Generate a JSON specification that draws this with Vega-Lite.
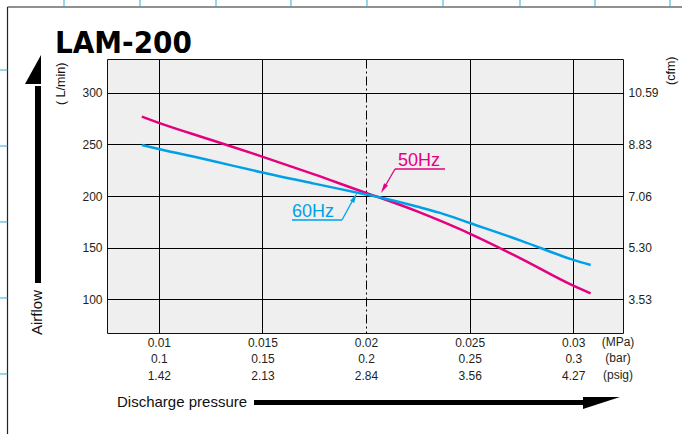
{
  "$schema": "https://vega.github.io/schema/vega-lite/v6.json",
  "width": 516,
  "height": 274,
  "autosize": {"type": "none"},
  "padding": {"left": 107, "top": 59, "right": 59, "bottom": 101},
  "background": "white",
  "title": {
    "text": "LAM-200",
    "anchor": "start",
    "frame": "group",
    "dx": -52,
    "dy": 99,
    "offset": 14,
    "baseline": "alphabetic",
    "fontSize": 31,
    "font": "DejaVu Sans Condensed",
    "fontWeight": "bold",
    "color": "#000000"
  },
  "config": {
    "view": {"fill": "#efefef", "stroke": "#111111", "strokeWidth": 1},
    "font": "Liberation Sans",
    "axis": {"labelFont": "Liberation Sans", "labelColor": "#231f20", "labelFontSize": 12},
    "text": {"font": "Liberation Sans"}
  },
  "datasets": {
    "curves": [
      {"series": "50Hz", "x": 0.00918, "y": 277},
      {"series": "50Hz", "x": 0.01, "y": 271},
      {"series": "50Hz", "x": 0.0125, "y": 254.6},
      {"series": "50Hz", "x": 0.01488, "y": 239},
      {"series": "50Hz", "x": 0.0175, "y": 221},
      {"series": "50Hz", "x": 0.02, "y": 203},
      {"series": "50Hz", "x": 0.02058, "y": 199},
      {"series": "50Hz", "x": 0.0225, "y": 184.8},
      {"series": "50Hz", "x": 0.02357, "y": 176},
      {"series": "50Hz", "x": 0.025, "y": 163.5},
      {"series": "50Hz", "x": 0.0275, "y": 139},
      {"series": "50Hz", "x": 0.03, "y": 113},
      {"series": "50Hz", "x": 0.03084, "y": 105.5},
      {"series": "60Hz", "x": 0.00918, "y": 249.5},
      {"series": "60Hz", "x": 0.01, "y": 245.6},
      {"series": "60Hz", "x": 0.0125, "y": 234.5},
      {"series": "60Hz", "x": 0.01488, "y": 223.3},
      {"series": "60Hz", "x": 0.0175, "y": 212},
      {"series": "60Hz", "x": 0.02, "y": 201.5},
      {"series": "60Hz", "x": 0.02058, "y": 199},
      {"series": "60Hz", "x": 0.0225, "y": 189.5},
      {"series": "60Hz", "x": 0.02357, "y": 183.6},
      {"series": "60Hz", "x": 0.025, "y": 173.8},
      {"series": "60Hz", "x": 0.0275, "y": 156.5},
      {"series": "60Hz", "x": 0.03, "y": 138},
      {"series": "60Hz", "x": 0.03084, "y": 133}
    ],
    "hzLabels": [
      {"series": "50Hz", "x": 0.021542, "y": 229.1, "text": "50Hz"},
      {"series": "60Hz", "x": 0.016427, "y": 179.6, "text": "60Hz"}
    ],
    "leaders": [
      {"series": "50Hz", "x": 0.021398, "y": 226.2, "x2": 0.02381, "y2": 226.2},
      {"series": "50Hz", "x": 0.021398, "y": 226.2, "x2": 0.020867, "y2": 207.8},
      {"series": "60Hz", "x": 0.016427, "y": 176.7, "x2": 0.01884, "y2": 176.7},
      {"series": "60Hz", "x": 0.01884, "y": 176.7, "x2": 0.019419, "y2": 198.1}
    ],
    "tips": [
      {"series": "50Hz", "x": 0.020843, "y": 207.1},
      {"series": "60Hz", "x": 0.019448, "y": 198.6}
    ],
    "frame": [
      {"x": 0.002699, "y": 383.5, "x2": 0.002699, "y2": -33},
      {"x": 0.002699, "y": 383.5, "x2": 0.0353, "y2": 383.5}
    ],
    "blueTicks": [
      {"x": 0.005425, "y": 391, "x2": 0.005425, "y2": 383.5},
      {"x": 0.009092, "y": 391, "x2": 0.009092, "y2": 383.5},
      {"x": 0.01276, "y": 391, "x2": 0.01276, "y2": 383.5},
      {"x": 0.016379, "y": 391, "x2": 0.016379, "y2": 383.5},
      {"x": 0.020046, "y": 391, "x2": 0.020046, "y2": 383.5},
      {"x": 0.023714, "y": 391, "x2": 0.023714, "y2": 383.5},
      {"x": 0.02743, "y": 391, "x2": 0.02743, "y2": 383.5},
      {"x": 0.031049, "y": 391, "x2": 0.031049, "y2": 383.5},
      {"x": 0.034668, "y": 391, "x2": 0.034668, "y2": 383.5},
      {"x": 0.00228, "y": 322.3, "x2": 0.002699, "y2": 322.3},
      {"x": 0.00228, "y": 248.5, "x2": 0.002699, "y2": 248.5},
      {"x": 0.00228, "y": 174.8, "x2": 0.002699, "y2": 174.8},
      {"x": 0.00228, "y": 101.0, "x2": 0.002699, "y2": 101.0},
      {"x": 0.00228, "y": 27.2, "x2": 0.002699, "y2": 27.2}
    ],
    "vShaft": [{"x": 0.00417, "y": 115.5, "y2": 306.8}],
    "vHead": [{"x": 0.003929, "y": 322.8}],
    "hShaft": [{"x": 0.014594, "x2": 0.030566, "y": -0.5}],
    "hHead": [{"x": 0.031362, "y": -0.9}],
    "rotTexts": [
      {"x": 0.004146, "y": 65.05, "text": "Airflow"},
      {"x": 0.00528, "y": 288.3, "text": "( L/min)"},
      {"x": 0.034716, "y": 307.8, "text": "(cfm)"}
    ],
    "xTitle": [{"x": 0.007983, "y": -4.84, "text": "Discharge pressure"}],
    "units": [
      {"x": 0.032158, "y": 63.12, "text": "(MPa)"},
      {"x": 0.032158, "y": 47.1, "text": "(bar)"},
      {"x": 0.032158, "y": 31.08, "text": "(psig)"}
    ]
  },
  "encoding": {
    "x": {
      "field": "x",
      "type": "quantitative",
      "scale": {"domain": [0.0075, 0.0324], "nice": false, "zero": false},
      "axis": {
        "values": [0.01, 0.015, 0.02, 0.025, 0.03],
        "title": null,
        "domain": false,
        "ticks": false,
        "tickSize": 0,
        "labelPadding": 4,
        "labelFontSize": 12,
        "labelLineHeight": 16.5,
        "labelFlush": false,
        "labelOverlap": false,
        "labelExpr": "round(datum.value*1000)==10?['0.01','0.1','1.42']:round(datum.value*1000)==15?['0.015','0.15','2.13']:round(datum.value*1000)==20?['0.02','0.2','2.84']:round(datum.value*1000)==25?['0.025','0.25','3.56']:['0.03','0.3','4.27']",
        "grid": true,
        "gridColor": "#000000",
        "gridWidth": 1,
        "gridOpacity": 1,
        "gridDash": {"condition": {"test": "round(datum.value*1000)==20", "value": [9, 3, 2, 3]}, "value": []}
      }
    },
    "y": {
      "field": "y",
      "type": "quantitative",
      "scale": {"domain": [67, 333], "nice": false, "zero": false},
      "axis": null
    }
  },
  "layer": [
    {
      "data": {"name": "curves"},
      "mark": {"type": "line", "strokeWidth": 2.5, "interpolate": "monotone"},
      "encoding": {
        "y": {
          "field": "y",
          "type": "quantitative",
          "scale": {"domain": [67, 333], "nice": false, "zero": false},
          "axis": {
            "orient": "left",
            "values": [100, 150, 200, 250, 300],
            "title": null,
            "domain": false,
            "ticks": false,
            "tickSize": 0,
            "labelPadding": 5,
            "labelFontSize": 12,
            "grid": true,
            "gridColor": "#000000",
            "gridWidth": 1,
            "gridOpacity": 1
          }
        },
        "color": {"field": "series", "type": "nominal", "scale": {"domain": ["50Hz", "60Hz"], "range": ["#e4007f", "#00a0e9"]}, "legend": null}
      }
    },
    {
      "data": {"name": "hzLabels"},
      "mark": {"type": "text", "align": "left", "baseline": "alphabetic", "fontSize": 18},
      "encoding": {
        "y": {
          "field": "y",
          "type": "quantitative",
          "scale": {"domain": [67, 333], "nice": false, "zero": false},
          "axis": {
            "orient": "right",
            "values": [100, 150, 200, 250, 300],
            "title": null,
            "domain": false,
            "ticks": false,
            "tickSize": 0,
            "labelPadding": 5,
            "labelFontSize": 12,
            "grid": false,
            "labelExpr": "datum.value==300?'10.59':datum.value==250?'8.83':datum.value==200?'7.06':datum.value==150?'5.30':'3.53'"
          }
        },
        "text": {"field": "text", "type": "nominal"},
        "color": {"field": "series", "type": "nominal", "scale": {"domain": ["50Hz", "60Hz"], "range": ["#e4007f", "#00a0e9"]}, "legend": null}
      }
    },
    {
      "data": {"name": "leaders"},
      "mark": {"type": "rule", "strokeWidth": 1.3},
      "encoding": {
        "x2": {"field": "x2"},
        "y2": {"field": "y2"},
        "color": {"field": "series", "type": "nominal", "scale": {"domain": ["50Hz", "60Hz"], "range": ["#e4007f", "#00a0e9"]}, "legend": null}
      }
    },
    {
      "data": {"name": "tips"},
      "mark": {"type": "point", "filled": true, "opacity": 1, "shape": "M 0 -1 L 0.45 1 L -0.45 1 Z", "size": 100},
      "encoding": {
        "angle": {"condition": {"test": "datum.series=='50Hz'", "value": 210}, "value": 29},
        "color": {"field": "series", "type": "nominal", "scale": {"domain": ["50Hz", "60Hz"], "range": ["#e4007f", "#00a0e9"]}, "legend": null}
      }
    },
    {
      "data": {"name": "frame"},
      "mark": {"type": "rule", "strokeWidth": 1.2, "color": "#222222"},
      "encoding": {"x2": {"field": "x2"}, "y2": {"field": "y2"}}
    },
    {
      "data": {"name": "blueTicks"},
      "mark": {"type": "rule", "strokeWidth": 1, "color": "#3aa6dd"},
      "encoding": {"x2": {"field": "x2"}, "y2": {"field": "y2"}}
    },
    {
      "data": {"name": "vShaft"},
      "mark": {"type": "rule", "strokeWidth": 6, "color": "#000000"},
      "encoding": {"y2": {"field": "y2"}}
    },
    {
      "data": {"name": "vHead"},
      "mark": {"type": "point", "filled": true, "opacity": 1, "color": "#000000", "shape": "M -0.533 0.967 L 0.533 0.967 L 0.533 -0.967 Z", "size": 900},
      "encoding": {}
    },
    {
      "data": {"name": "hShaft"},
      "mark": {"type": "rule", "strokeWidth": 5, "color": "#000000"},
      "encoding": {"x2": {"field": "x2"}}
    },
    {
      "data": {"name": "hHead"},
      "mark": {"type": "point", "filled": true, "opacity": 1, "color": "#000000", "shape": "M -0.974 -0.316 L 0.974 -0.316 L -0.974 0.316 Z", "size": 1444},
      "encoding": {}
    },
    {
      "data": {"name": "rotTexts"},
      "mark": {"type": "text", "angle": 270, "align": "left", "baseline": "middle", "color": "#111111"},
      "encoding": {
        "text": {"field": "text", "type": "nominal"},
        "size": {"condition": {"test": "datum.text=='Airflow'", "value": 15}, "value": 12.5}
      }
    },
    {
      "data": {"name": "xTitle"},
      "mark": {"type": "text", "align": "left", "baseline": "alphabetic", "fontSize": 15, "color": "#111111"},
      "encoding": {"text": {"field": "text", "type": "nominal"}}
    },
    {
      "data": {"name": "units"},
      "mark": {"type": "text", "align": "center", "baseline": "top", "fontSize": 12, "color": "#231f20"},
      "encoding": {"text": {"field": "text", "type": "nominal"}}
    }
  ],
  "resolve": {"axis": {"y": "independent"}}
}
